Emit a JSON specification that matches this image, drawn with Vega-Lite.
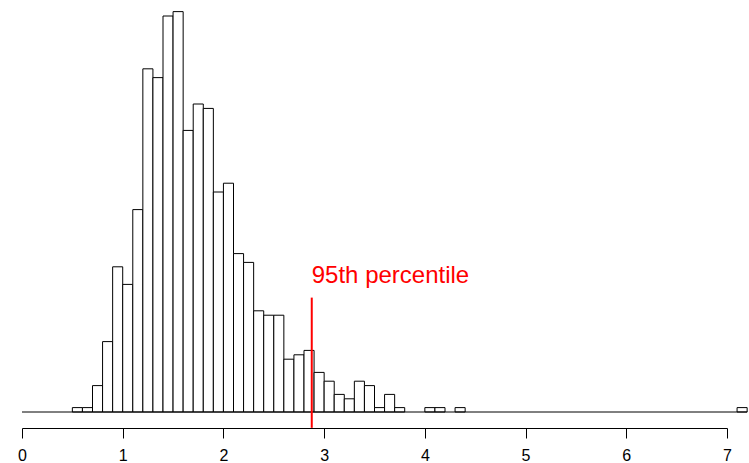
{
  "$schema": "https://vega.github.io/schema/vega-lite/v6.json",
  "width": 705,
  "height": 412,
  "autosize": "none",
  "padding": {"left": 22, "right": 22, "top": 0, "bottom": 51},
  "background": "white",
  "config": {"view": {"stroke": null}, "font": "Liberation Sans"},
  "datasets": {
    "bins": [
      {"start": 0.5, "end": 0.6, "count": 1},
      {"start": 0.6, "end": 0.7, "count": 1},
      {"start": 0.7, "end": 0.8, "count": 6},
      {"start": 0.8, "end": 0.9, "count": 16},
      {"start": 0.9, "end": 1.0, "count": 33},
      {"start": 1.0, "end": 1.1, "count": 29},
      {"start": 1.1, "end": 1.2, "count": 46},
      {"start": 1.2, "end": 1.3, "count": 78},
      {"start": 1.3, "end": 1.4, "count": 76},
      {"start": 1.4, "end": 1.5, "count": 90},
      {"start": 1.5, "end": 1.6, "count": 91},
      {"start": 1.6, "end": 1.7, "count": 64},
      {"start": 1.7, "end": 1.8, "count": 70},
      {"start": 1.8, "end": 1.9, "count": 69},
      {"start": 1.9, "end": 2.0, "count": 50},
      {"start": 2.0, "end": 2.1, "count": 52},
      {"start": 2.1, "end": 2.2, "count": 36},
      {"start": 2.2, "end": 2.3, "count": 34},
      {"start": 2.3, "end": 2.4, "count": 23},
      {"start": 2.4, "end": 2.5, "count": 22},
      {"start": 2.5, "end": 2.6, "count": 22},
      {"start": 2.6, "end": 2.7, "count": 12},
      {"start": 2.7, "end": 2.8, "count": 13},
      {"start": 2.8, "end": 2.9, "count": 14},
      {"start": 2.9, "end": 3.0, "count": 9},
      {"start": 3.0, "end": 3.1, "count": 7},
      {"start": 3.1, "end": 3.2, "count": 4},
      {"start": 3.2, "end": 3.3, "count": 3},
      {"start": 3.3, "end": 3.4, "count": 7},
      {"start": 3.4, "end": 3.5, "count": 6},
      {"start": 3.5, "end": 3.6, "count": 1},
      {"start": 3.6, "end": 3.7, "count": 4},
      {"start": 3.7, "end": 3.8, "count": 1},
      {"start": 4.0, "end": 4.1, "count": 1},
      {"start": 4.1, "end": 4.2, "count": 1},
      {"start": 4.3, "end": 4.4, "count": 1},
      {"start": 7.1, "end": 7.2, "count": 1}
    ],
    "p95": [{"x": 2.877, "top": 26, "bottom": -3.6, "label": "95th percentile", "labelY": 29.3}]
  },
  "layer": [
    {
      "data": {"name": "bins"},
      "mark": {"type": "rect", "fill": "white", "stroke": "black", "strokeWidth": 1, "clip": false},
      "encoding": {
        "x": {"field": "start", "type": "quantitative",
              "scale": {"domain": [0, 7], "nice": false, "zero": false},
              "axis": {"values": [0, 1, 2, 3, 4, 5, 6, 7], "format": "d", "grid": false, "offset": 16,
                       "domainColor": "black", "domainWidth": 1, "tickColor": "black", "tickSize": 10, "tickWidth": 1,
                       "labelFontSize": 16, "labelColor": "black", "labelPadding": 9, "labelFont": "Liberation Sans",
                       "title": null, "labelFlush": false, "labelOverlap": false}},
        "x2": {"field": "end"},
        "y": {"field": "count", "type": "quantitative",
              "scale": {"domain": [0, 93.64], "nice": false}, "axis": null},
        "y2": {"datum": 0}
      }
    },
    {
      "data": {"values": [{"a": 0, "b": 7.2, "y": 0}]},
      "mark": {"type": "rule", "color": "black", "strokeWidth": 1, "clip": false},
      "encoding": {
        "x": {"field": "a", "type": "quantitative"},
        "x2": {"field": "b"},
        "y": {"field": "y", "type": "quantitative"}
      }
    },
    {
      "data": {"name": "p95"},
      "mark": {"type": "rule", "color": "#FF0000", "strokeWidth": 2, "clip": false},
      "encoding": {
        "x": {"field": "x", "type": "quantitative"},
        "y": {"field": "top", "type": "quantitative"},
        "y2": {"field": "bottom"}
      }
    },
    {
      "data": {"name": "p95"},
      "mark": {"type": "text", "color": "#FF0000", "fontSize": 24, "align": "left", "baseline": "alphabetic", "font": "Liberation Sans", "dx": 0},
      "encoding": {
        "x": {"field": "x", "type": "quantitative"},
        "y": {"field": "labelY", "type": "quantitative"},
        "text": {"field": "label"}
      }
    }
  ]
}
